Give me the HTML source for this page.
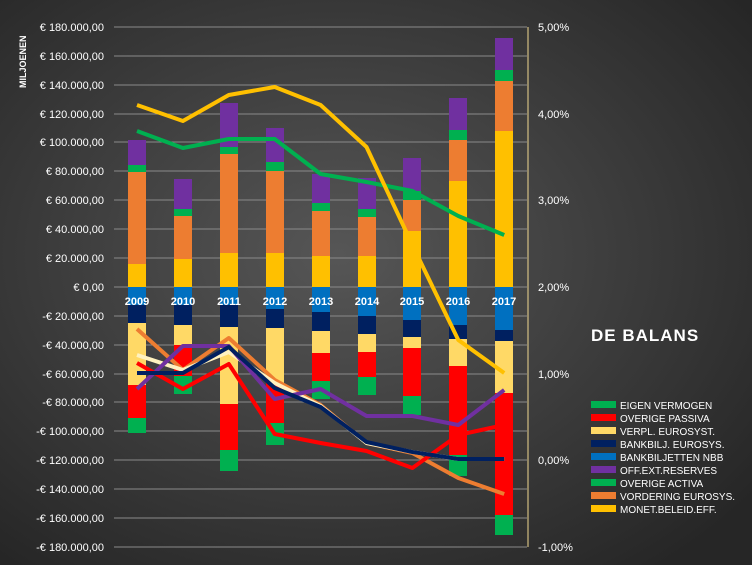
<!DOCTYPE html><html><head><style>body{margin:0}svg{display:block}text{font-family:"Liberation Sans",sans-serif}</style></head><body>
<svg width="752" height="565" xmlns="http://www.w3.org/2000/svg">
<defs><radialGradient id="bg" cx="45%" cy="45%" r="70%"><stop offset="0" stop-color="#565656"/><stop offset="1" stop-color="#262626"/></radialGradient></defs>
<rect width="752" height="565" fill="url(#bg)"/>
<g stroke="#8a8a8a" stroke-width="1">
<line x1="114" x2="527" y1="27" y2="27"/><line x1="114" x2="527" y1="56" y2="56"/><line x1="114" x2="527" y1="85" y2="85"/><line x1="114" x2="527" y1="114" y2="114"/><line x1="114" x2="527" y1="142" y2="142"/><line x1="114" x2="527" y1="171" y2="171"/><line x1="114" x2="527" y1="200" y2="200"/><line x1="114" x2="527" y1="229" y2="229"/><line x1="114" x2="527" y1="258" y2="258"/><line x1="114" x2="527" y1="287" y2="287"/><line x1="114" x2="527" y1="316" y2="316"/><line x1="114" x2="527" y1="345" y2="345"/><line x1="114" x2="527" y1="374" y2="374"/><line x1="114" x2="527" y1="402" y2="402"/><line x1="114" x2="527" y1="431" y2="431"/><line x1="114" x2="527" y1="460" y2="460"/><line x1="114" x2="527" y1="489" y2="489"/><line x1="114" x2="527" y1="518" y2="518"/><line x1="114" x2="527" y1="547" y2="547"/>
</g>
<line x1="528" x2="528" y1="27" y2="547" stroke="#f0d890" stroke-width="1"/>
<g fill="#fff" font-size="11" text-anchor="end">
<text x="104" y="31">€ 180.000,00</text><text x="104" y="60">€ 160.000,00</text><text x="104" y="89">€ 140.000,00</text><text x="104" y="118">€ 120.000,00</text><text x="104" y="146">€ 100.000,00</text><text x="104" y="175">€ 80.000,00</text><text x="104" y="204">€ 60.000,00</text><text x="104" y="233">€ 40.000,00</text><text x="104" y="262">€ 20.000,00</text><text x="104" y="291">€ 0,00</text><text x="104" y="320">-€ 20.000,00</text><text x="104" y="349">-€ 40.000,00</text><text x="104" y="378">-€ 60.000,00</text><text x="104" y="406">-€ 80.000,00</text><text x="104" y="435">-€ 100.000,00</text><text x="104" y="464">-€ 120.000,00</text><text x="104" y="493">-€ 140.000,00</text><text x="104" y="522">-€ 160.000,00</text><text x="104" y="551">-€ 180.000,00</text>
</g>
<g fill="#fff" font-size="11">
<text x="538" y="31">5,00%</text><text x="538" y="118">4,00%</text><text x="538" y="204">3,00%</text><text x="538" y="291">2,00%</text><text x="538" y="378">1,00%</text><text x="538" y="464">0,00%</text><text x="538" y="551">-1,00%</text>
</g>
<text transform="translate(26,88) rotate(-90)" fill="#fff" font-size="9" font-weight="bold">MILJOENEN</text>

<g transform="translate(128,0)"><rect y="264" width="18" height="23" fill="#ffc000"/><rect y="172" width="18" height="92" fill="#ed7d31"/><rect y="165" width="18" height="7" fill="#00b050"/><rect y="140" width="18" height="25" fill="#7030a0"/><rect y="287" width="18" height="18" fill="#0070c0"/><rect y="305" width="18" height="18" fill="#002060"/><rect y="323" width="18" height="62" fill="#ffd966"/><rect y="385" width="18" height="33" fill="#ff0000"/><rect y="418" width="18" height="15" fill="#00b050"/></g>
<g transform="translate(174,0)"><rect y="259" width="18" height="28" fill="#ffc000"/><rect y="216" width="18" height="43" fill="#ed7d31"/><rect y="209" width="18" height="7" fill="#00b050"/><rect y="179" width="18" height="30" fill="#7030a0"/><rect y="287" width="18" height="18" fill="#0070c0"/><rect y="305" width="18" height="20" fill="#002060"/><rect y="325" width="18" height="20" fill="#ffd966"/><rect y="345" width="18" height="31" fill="#ff0000"/><rect y="376" width="18" height="18" fill="#00b050"/></g>
<g transform="translate(220,0)"><rect y="253" width="18" height="34" fill="#ffc000"/><rect y="154" width="18" height="99" fill="#ed7d31"/><rect y="147" width="18" height="7" fill="#00b050"/><rect y="103" width="18" height="44" fill="#7030a0"/><rect y="287" width="18" height="18" fill="#0070c0"/><rect y="305" width="18" height="22" fill="#002060"/><rect y="327" width="18" height="77" fill="#ffd966"/><rect y="404" width="18" height="46" fill="#ff0000"/><rect y="450" width="18" height="21" fill="#00b050"/></g>
<g transform="translate(266,0)"><rect y="253" width="18" height="34" fill="#ffc000"/><rect y="171" width="18" height="82" fill="#ed7d31"/><rect y="162" width="18" height="9" fill="#00b050"/><rect y="128" width="18" height="34" fill="#7030a0"/><rect y="287" width="18" height="22" fill="#0070c0"/><rect y="309" width="18" height="19" fill="#002060"/><rect y="328" width="18" height="55" fill="#ffd966"/><rect y="383" width="18" height="40" fill="#ff0000"/><rect y="423" width="18" height="22" fill="#00b050"/></g>
<g transform="translate(312,0)"><rect y="256" width="18" height="31" fill="#ffc000"/><rect y="211" width="18" height="45" fill="#ed7d31"/><rect y="203" width="18" height="8" fill="#00b050"/><rect y="174" width="18" height="29" fill="#7030a0"/><rect y="287" width="18" height="25" fill="#0070c0"/><rect y="312" width="18" height="19" fill="#002060"/><rect y="331" width="18" height="22" fill="#ffd966"/><rect y="353" width="18" height="28" fill="#ff0000"/><rect y="381" width="18" height="18" fill="#00b050"/></g>
<g transform="translate(358,0)"><rect y="256" width="18" height="31" fill="#ffc000"/><rect y="217" width="18" height="39" fill="#ed7d31"/><rect y="209" width="18" height="8" fill="#00b050"/><rect y="178" width="18" height="31" fill="#7030a0"/><rect y="287" width="18" height="29" fill="#0070c0"/><rect y="316" width="18" height="18" fill="#002060"/><rect y="334" width="18" height="18" fill="#ffd966"/><rect y="352" width="18" height="25" fill="#ff0000"/><rect y="377" width="18" height="18" fill="#00b050"/></g>
<g transform="translate(403,0)"><rect y="231" width="18" height="56" fill="#ffc000"/><rect y="200" width="18" height="31" fill="#ed7d31"/><rect y="191" width="18" height="9" fill="#00b050"/><rect y="158" width="18" height="33" fill="#7030a0"/><rect y="287" width="18" height="33" fill="#0070c0"/><rect y="320" width="18" height="17" fill="#002060"/><rect y="337" width="18" height="11" fill="#ffd966"/><rect y="348" width="18" height="48" fill="#ff0000"/><rect y="396" width="18" height="19" fill="#00b050"/></g>
<g transform="translate(449,0)"><rect y="181" width="18" height="106" fill="#ffc000"/><rect y="140" width="18" height="41" fill="#ed7d31"/><rect y="130" width="18" height="10" fill="#00b050"/><rect y="98" width="18" height="32" fill="#7030a0"/><rect y="287" width="18" height="38" fill="#0070c0"/><rect y="325" width="18" height="14" fill="#002060"/><rect y="339" width="18" height="27" fill="#ffd966"/><rect y="366" width="18" height="89" fill="#ff0000"/><rect y="455" width="18" height="21" fill="#00b050"/></g>
<g transform="translate(495,0)"><rect y="131" width="18" height="156" fill="#ffc000"/><rect y="81" width="18" height="50" fill="#ed7d31"/><rect y="70" width="18" height="11" fill="#00b050"/><rect y="38" width="18" height="32" fill="#7030a0"/><rect y="287" width="18" height="43" fill="#0070c0"/><rect y="330" width="18" height="11" fill="#002060"/><rect y="341" width="18" height="52" fill="#ffd966"/><rect y="393" width="18" height="122" fill="#ff0000"/><rect y="515" width="18" height="20" fill="#00b050"/></g>

<g fill="#fff" font-size="11" font-weight="bold" text-anchor="middle">
<text x="137" y="305">2009</text><text x="183" y="305">2010</text><text x="229" y="305">2011</text><text x="275" y="305">2012</text><text x="321" y="305">2013</text><text x="367" y="305">2014</text><text x="412" y="305">2015</text><text x="458" y="305">2016</text><text x="504" y="305">2017</text>
</g>

<g fill="none" stroke-width="4" stroke-linejoin="round">
<polyline stroke="#ed7d31" points="137,329 182.9,370 228.8,338 274.7,380 320.6,405 366.5,443 412.4,453 458.3,478 504.2,494"/>
<polyline stroke="#fff2c0" points="137,355 182.9,370 228.8,352 274.7,383 320.6,406 366.5,443 412.4,452 458.3,459 504.2,459"/>
<polyline stroke="#7030a0" points="137,389 182.9,346 228.8,346 274.7,399 320.6,389 366.5,416 412.4,416 458.3,425 504.2,390"/>
<polyline stroke="#ff0000" points="137,363 182.9,389 228.8,364 274.7,434 320.6,443 366.5,451 412.4,468 458.3,435 504.2,425"/>
<polyline stroke="#002060" points="137,373 182.9,373 228.8,347 274.7,388 320.6,407 366.5,442 412.4,452 458.3,459 504.2,459"/>
<polyline stroke="#00b050" points="137,131 182.9,148 228.8,139 274.7,139 320.6,174 366.5,182 412.4,191 458.3,216 504.2,235"/>
<polyline stroke="#ffc000" points="137,105 182.9,121 228.8,95 274.7,87 320.6,105 366.5,147 412.4,245 458.3,340 504.2,373"/>
</g>

<text x="591" y="341" fill="#fff" font-size="17" font-weight="bold" letter-spacing="1">DE BALANS</text>
<g font-size="10" fill="#fff">
<rect x="591" y="401" width="25" height="7" fill="#00b050"/><text x="620" y="409">EIGEN VERMOGEN</text>
<rect x="591" y="414" width="25" height="7" fill="#ff0000"/><text x="620" y="422">OVERIGE PASSIVA</text>
<rect x="591" y="427" width="25" height="7" fill="#ffd966"/><text x="620" y="435">VERPL. EUROSYST.</text>
<rect x="591" y="440" width="25" height="7" fill="#002060"/><text x="620" y="448">BANKBILJ. EUROSYS.</text>
<rect x="591" y="453" width="25" height="7" fill="#0070c0"/><text x="620" y="461">BANKBILJETTEN NBB</text>
<rect x="591" y="466" width="25" height="7" fill="#7030a0"/><text x="620" y="474">OFF.EXT.RESERVES</text>
<rect x="591" y="479" width="25" height="7" fill="#00b050"/><text x="620" y="487">OVERIGE ACTIVA</text>
<rect x="591" y="492" width="25" height="7" fill="#ed7d31"/><text x="620" y="500">VORDERING EUROSYS.</text>
<rect x="591" y="505" width="25" height="7" fill="#ffc000"/><text x="620" y="513">MONET.BELEID.EFF.</text>
</g>
</svg>
</body></html>
